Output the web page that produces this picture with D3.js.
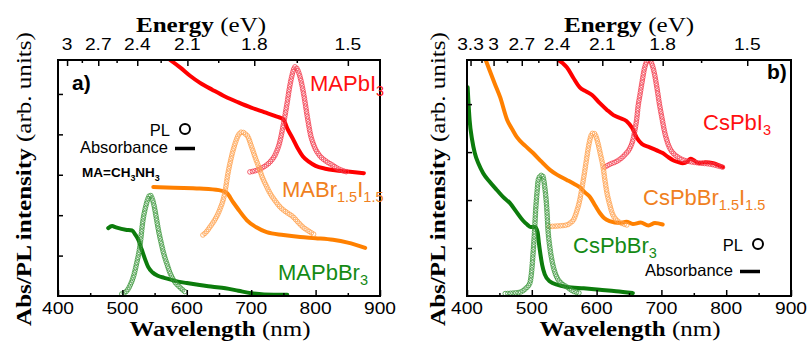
<!DOCTYPE html>
<html>
<head>
<meta charset="utf-8">
<script src="https://cdn.jsdelivr.net/npm/d3@7"></script>
<style>
  body { margin: 0; background: #fff; }
  svg { display: block; }
</style>
</head>
<body>
<div id="chart"></div>
<script>
// ---- ticks ----
const wavelengthTicks = [400, 500, 600, 700, 800, 900];
const wavelengthMinor = [450, 550, 650, 750, 850];
const energyTicksA = [3, 2.7, 2.4, 2.1, 1.8, 1.5];
const energyTicksB = [3.3, 3, 2.7, 2.4, 2.1, 1.8, 1.5];
const energyMinor = [3.15, 2.85, 2.55, 2.25, 1.95, 1.65];

// ---- panel a: MA perovskites [wavelength nm, intensity] ----
const maPbI3Abs = [[574,5.84],[590,5.65],[605,5.45],[620,5.28],[640,5.10],[660,4.93],[680,4.79],[700,4.66],[720,4.55],[740,4.44],[750,4.37],[756,4.15],[765,3.88],[772,3.66],[780,3.46],[790,3.32],[800,3.22],[815,3.15],[830,3.11],[850,3.08],[875,3.04]];
const maPbI3PL = [[698,3.07],[710,3.12],[720,3.2],[730,3.33],[738,3.52],[745,3.85],[750,4.25],[755,4.7],[760,5.2],[764,5.5],[768,5.67],[772,5.6],[777,5.35],[782,4.95],[787,4.45],[792,4.0],[798,3.7],[805,3.5],[815,3.35],[825,3.25],[835,3.15],[849,3.07]];
const maMixAbs = [[548,2.70],[580,2.68],[620,2.66],[650,2.62],[662,2.55],[672,2.32],[682,2.10],[693,1.88],[708,1.70],[724,1.58],[750,1.51],[776,1.46],[800,1.43],[827,1.39],[850,1.32],[877,1.19]];
const maMixPL = [[625,1.51],[630,1.58],[636,1.71],[644,1.9],[651,2.13],[659,2.55],[664,3.04],[668,3.35],[672,3.61],[676,3.82],[680,3.98],[686,4.06],[690,4.02],[695,3.94],[700,3.72],[706,3.44],[712,3.18],[717,2.95],[723,2.74],[729,2.55],[737,2.36],[745,2.20],[755,2.07],[765,1.96],[772,1.84],[780,1.71],[790,1.6],[799,1.51]];
const maPbBr3Abs = [[478,1.68],[484,1.73],[490,1.70],[505,1.64],[515,1.62],[520,1.52],[525,1.38],[530,1.15],[535,0.92],[540,0.72],[547,0.58],[555,0.50],[565,0.45],[580,0.38],[600,0.32],[620,0.27],[640,0.23],[660,0.19],[680,0.13],[700,0.07],[720,0.04],[756,0.03]];
const maPbBr3PL = [[499,0.05],[508,0.15],[513,0.3],[517,0.47],[522,0.8],[527,1.21],[532,1.88],[536,2.2],[540,2.42],[543,2.5],[546,2.42],[549,2.25],[553,1.9],[556,1.63],[560,1.33],[564,1.06],[569,0.8],[574,0.57],[580,0.38],[589,0.22],[600,0.07]];

// ---- panel b: Cs perovskites ----
const csPbI3Abs = [[541,4.92],[548,4.85],[554,4.77],[564,4.55],[574,4.35],[583,4.27],[593,4.19],[605,4.02],[616,3.88],[626,3.77],[636,3.71],[646,3.65],[655,3.50],[662,3.30],[670,3.17],[682,3.10],[692,3.04],[702,2.98],[710,2.90],[718,2.83],[726,2.79],[733,2.77],[740,2.80],[745,2.86],[750,2.83],[757,2.77],[768,2.79],[780,2.77],[788,2.73],[795,2.69]];
const csPbI3PL = [[613,2.69],[621,2.75],[630,2.8],[636,2.85],[644,2.95],[652,3.10],[656,3.25],[659,3.45],[662,3.7],[664,3.95],[667,4.2],[670,4.45],[674,4.75],[678,4.9],[681,4.92],[685,4.85],[689,4.65],[693,4.35],[697,4.0],[701,3.7],[705,3.42],[709,3.22],[713,3.08],[718,2.98],[725,2.9],[733,2.84],[745,2.8],[760,2.77],[775,2.75],[785,2.72],[798,2.67]];
const csMixAbs = [[428,4.95],[435,4.7],[443,4.42],[451,4.15],[462,3.67],[470,3.47],[477,3.31],[490,3.13],[502,2.98],[515,2.80],[528,2.63],[540,2.52],[554,2.42],[565,2.34],[574,2.27],[582,2.16],[590,2.06],[598,1.88],[605,1.73],[612,1.62],[620,1.56],[636,1.52],[646,1.55],[656,1.50],[668,1.53],[680,1.47],[690,1.52],[702,1.49]];
const csMixPL = [[528,1.45],[540,1.46],[554,1.48],[560,1.53],[564,1.58],[569,1.75],[574,2.0],[578,2.3],[582,2.63],[585,2.9],[588,3.15],[592,3.36],[595,3.40],[598,3.36],[602,3.19],[606,2.95],[610,2.69],[613,2.4],[616,2.15],[620,1.92],[624,1.73],[631,1.58],[638,1.52],[647,1.48]];
const csPbBr3Abs = [[401,4.35],[404,3.67],[408,3.25],[412,2.98],[418,2.75],[425,2.56],[435,2.38],[446,2.21],[456,2.06],[466,1.94],[476,1.76],[486,1.58],[492,1.50],[498,1.44],[505,1.44],[509,1.33],[511,1.1],[513,0.9],[516,0.65],[520,0.45],[528,0.30],[540,0.23],[554,0.19],[580,0.16],[605,0.13],[630,0.10],[656,0.06]];
const csPbBr3PL = [[459,0.05],[470,0.06],[482,0.08],[490,0.15],[497,0.27],[500,0.55],[502,0.9],[504,1.3],[506,1.8],[508,2.15],[510,2.42],[513,2.5],[516,2.52],[518,2.45],[520,2.27],[523,1.85],[525,1.38],[528,1.0],[531,0.75],[535,0.52],[539,0.38],[546,0.26],[554,0.19],[564,0.1],[574,0.06]];

const RED = "#ff0000", ORANGE = "#ff8000", GREEN = "#0c7c0c";
const RED_PL = "#f2384a", ORANGE_PL = "#ffa04a", GREEN_PL = "#3a963a";

const W = 807, H = 341;
const svg = d3.select("#chart").append("svg")
    .attr("width", W)
    .attr("height", H)
    .attr("viewBox", [0, 0, W, H]);

const SANS = "'Liberation Sans', Arial, sans-serif";
const SERIF = "'Liberation Serif', 'Times New Roman', serif";

// stretched text (the original figure is slightly stretched sideways)
function addText(g, x, y, opts) {
  const t = g.append("text")
      .attr("transform", `translate(${x},${y})${opts.rotate ? ` rotate(${opts.rotate})` : ""} scale(${opts.sx || 1},1)`)
      .attr("text-anchor", opts.anchor || "start")
      .attr("fill", opts.color || "#000")
      .style("font-family", opts.family || SANS)
      .style("font-size", opts.size + "px");
  if (opts.weight) t.style("font-weight", opts.weight);
  return t;
}

// label with subscripts: parts = [[text, isSub], ...]
function chemLabel(g, x, y, parts, color, size, subDrop = 5) {
  const t = addText(g, x, y, { color, size });
  let shift = 0;
  parts.forEach(([s, sub]) => {
    const dy = sub ? subDrop - shift : -shift;
    shift += dy;
    t.append("tspan")
        .attr("dy", dy)
        .style("font-size", sub ? (size * 0.66) + "px" : null)
        .text(s);
  });
  return t;
}

function drawPanel(p) {
  const g = svg.append("g");
  const x = d3.scaleLinear().domain([400, 900]).range([p.left, p.right]);
  const xTop = d3.scaleLinear().domain(p.topDomain).range([p.left, p.right]);
  const y = d3.scaleLinear().domain([0, p.yMax]).range([p.bottom, p.top]);

  const clipId = "clip-" + p.id;
  g.append("clipPath").attr("id", clipId)
    .append("rect")
      .attr("x", p.left).attr("y", p.top)
      .attr("width", p.right - p.left).attr("height", p.bottom - p.top);

  const plot = g.append("g").attr("clip-path", `url(#${clipId})`);
  const line = d3.line().x(d => x(d[0])).y(d => y(d[1])).curve(d3.curveMonotoneX);

  p.series.forEach(s => {
    if (s.type === "abs") {
      plot.append("path")
          .attr("d", line(s.data))
          .attr("fill", "none")
          .attr("stroke", s.color)
          .attr("stroke-width", 4)
          .attr("stroke-linejoin", "round")
          .attr("stroke-linecap", "round");
    } else {
      // PL drawn as open circles along the measured curve
      const path = plot.append("path")
          .attr("d", line(s.data))
          .attr("fill", "none")
          .attr("stroke", "none");
      const node = path.node();
      const len = node.getTotalLength();
      const pts = d3.range(0, len, 2.6).map(l => node.getPointAtLength(l));
      plot.append("g").selectAll("circle")
        .data(pts)
        .join("circle")
          .attr("cx", d => d.x)
          .attr("cy", d => d.y)
          .attr("r", 2.3)
          .attr("fill", "none")
          .attr("stroke", s.color)
          .attr("stroke-width", 0.8);
    }
  });

  // bottom axis (ticks inward)
  const bottom = g.append("g").attr("transform", `translate(0,${p.bottom})`);
  bottom.call(d3.axisBottom(x).tickValues(wavelengthTicks).tickSize(-6).tickFormat(""))
      .call(a => a.select(".domain").remove());
  bottom.append("g").call(d3.axisBottom(x).tickValues(wavelengthMinor).tickSize(-3).tickFormat(""))
      .call(a => a.select(".domain").remove());
  bottom.selectAll("line").attr("stroke", "#000").attr("stroke-width", 1.5);
  wavelengthTicks.forEach(v => {
    addText(g, x(v), 314, { size: 17, sx: 1.13, anchor: "middle" }).text(v);
  });

  // top axis: energy, eV -> nm
  const top = g.append("g").attr("transform", `translate(0,${p.top})`);
  top.call(d3.axisTop(xTop).tickValues(p.energyTicks.map(e => 1240 / e)).tickSize(-6).tickFormat(""))
      .call(a => a.select(".domain").remove());
  top.append("g").call(d3.axisTop(xTop)
        .tickValues(energyMinor.map(e => 1240 / e).filter(v => v > p.topDomain[0] && v < p.topDomain[1]))
        .tickSize(-3).tickFormat(""))
      .call(a => a.select(".domain").remove());
  top.selectAll("line").attr("stroke", "#000").attr("stroke-width", 1.5);
  p.energyTicks.forEach(e => {
    addText(g, xTop(1240 / e), 50, { size: 17, sx: 1.13, anchor: "middle" }).text(e);
  });

  // left axis: unlabeled ticks
  g.append("g").attr("transform", `translate(${p.left},0)`)
      .call(d3.axisLeft(y).tickValues(p.yTicks).tickSize(-5).tickFormat(""))
      .call(a => a.select(".domain").remove())
      .selectAll("line").attr("stroke", "#000").attr("stroke-width", 1.5);

  // frame
  g.append("rect")
      .attr("x", p.left).attr("y", p.top)
      .attr("width", p.right - p.left).attr("height", p.bottom - p.top)
      .attr("fill", "none")
      .attr("stroke", "#000")
      .attr("stroke-width", 2);

  // axis titles
  const et = addText(g, p.energyTitleX, 32, { size: 22, sx: 1.14, anchor: "middle", family: SERIF });
  et.append("tspan").style("font-weight", "bold").text("Energy");
  et.append("tspan").text(" (eV)");

  const wt = addText(g, (p.left + p.right) / 2 + 1, 336, { size: 21, sx: 1.19, anchor: "middle", family: SERIF });
  wt.append("tspan").style("font-weight", "bold").text("Wavelength");
  wt.append("tspan").text(" (nm)");

  const yt = addText(g, p.yTitleX, 179, { size: 22, sx: 1.14, anchor: "middle", family: SERIF, rotate: -90 });
  yt.append("tspan").style("font-weight", "bold").text("Abs/PL intensity");
  yt.append("tspan").text(" (arb. units)");

  // panel letter
  addText(g, p.letter[0], p.letter[1], { size: 21, weight: "bold" }).text(p.letter[2]);

  // legend
  const L = p.legend;
  addText(g, L.plX, L.plY, { size: 16.5, anchor: "end" }).text("PL");
  g.append("circle").attr("cx", L.plX + 15).attr("cy", L.plY - 7).attr("r", 5)
      .attr("fill", "none").attr("stroke", "#000").attr("stroke-width", 2);
  addText(g, L.absX, L.absY, { size: 16.5, anchor: "end" }).text("Absorbance");
  g.append("line")
      .attr("x1", L.absX + 7).attr("x2", L.absX + 27)
      .attr("y1", L.absY - 4.5).attr("y2", L.absY - 4.5)
      .attr("stroke", "#000").attr("stroke-width", 3.5);

  p.labels.forEach(l => chemLabel(g, l.x, l.y, l.parts, l.color, l.size || 22));
  return g;
}

const panelA = drawPanel({
  id: "a", left: 58, right: 380, top: 60, bottom: 296,
  yMax: 5.84, yTicks: [1, 2, 3, 4, 5],
  topDomain: [400, 874], energyTicks: energyTicksA,
  energyTitleX: 201, yTitleX: 31,
  letter: [72, 90, "a)"],
  legend: { plX: 170, plY: 136, absX: 168, absY: 153 },
  series: [
    { type: "abs", data: maPbI3Abs, color: RED },
    { type: "abs", data: maMixAbs, color: ORANGE },
    { type: "abs", data: maPbBr3Abs, color: GREEN },
    { type: "pl", data: maPbI3PL, color: RED_PL },
    { type: "pl", data: maMixPL, color: ORANGE_PL },
    { type: "pl", data: maPbBr3PL, color: GREEN_PL }
  ],
  labels: [
    { x: 310, y: 91, color: "#ff1010", parts: [["MAPbI"], ["3", true]] },
    { x: 282, y: 197, color: "#f08020", parts: [["MABr"], ["1.5", true], ["I"], ["1.5", true]] },
    { x: 278, y: 280, color: "#148a14", parts: [["MAPbBr"], ["3", true]] }
  ]
});

// MA=CH3NH3 note
chemLabel(panelA, 82, 177, [["MA=CH"], ["3", true], ["NH"], ["3", true]], "#000", 13.5, 4)
    .style("font-weight", "bold");

drawPanel({
  id: "b", left: 467, right: 791, top: 60, bottom: 296,
  yMax: 4.92, yTicks: [1, 2, 3, 4],
  topDomain: [370, 898], energyTicks: energyTicksB,
  energyTitleX: 629, yTitleX: 445,
  letter: [767, 79, "b)"],
  legend: { plX: 743, plY: 251, absX: 733, absY: 276 },
  series: [
    { type: "abs", data: csPbI3Abs, color: RED },
    { type: "abs", data: csMixAbs, color: ORANGE },
    { type: "abs", data: csPbBr3Abs, color: GREEN },
    { type: "pl", data: csPbI3PL, color: RED_PL },
    { type: "pl", data: csMixPL, color: ORANGE_PL },
    { type: "pl", data: csPbBr3PL, color: GREEN_PL }
  ],
  labels: [
    { x: 703, y: 130, color: "#ff1010", parts: [["CsPbI"], ["3", true]] },
    { x: 643, y: 205, color: "#f08020", parts: [["CsPbBr"], ["1.5", true], ["I"], ["1.5", true]] },
    { x: 573, y: 253, color: "#148a14", parts: [["CsPbBr"], ["3", true]] }
  ]
});
</script>
</body>
</html>
